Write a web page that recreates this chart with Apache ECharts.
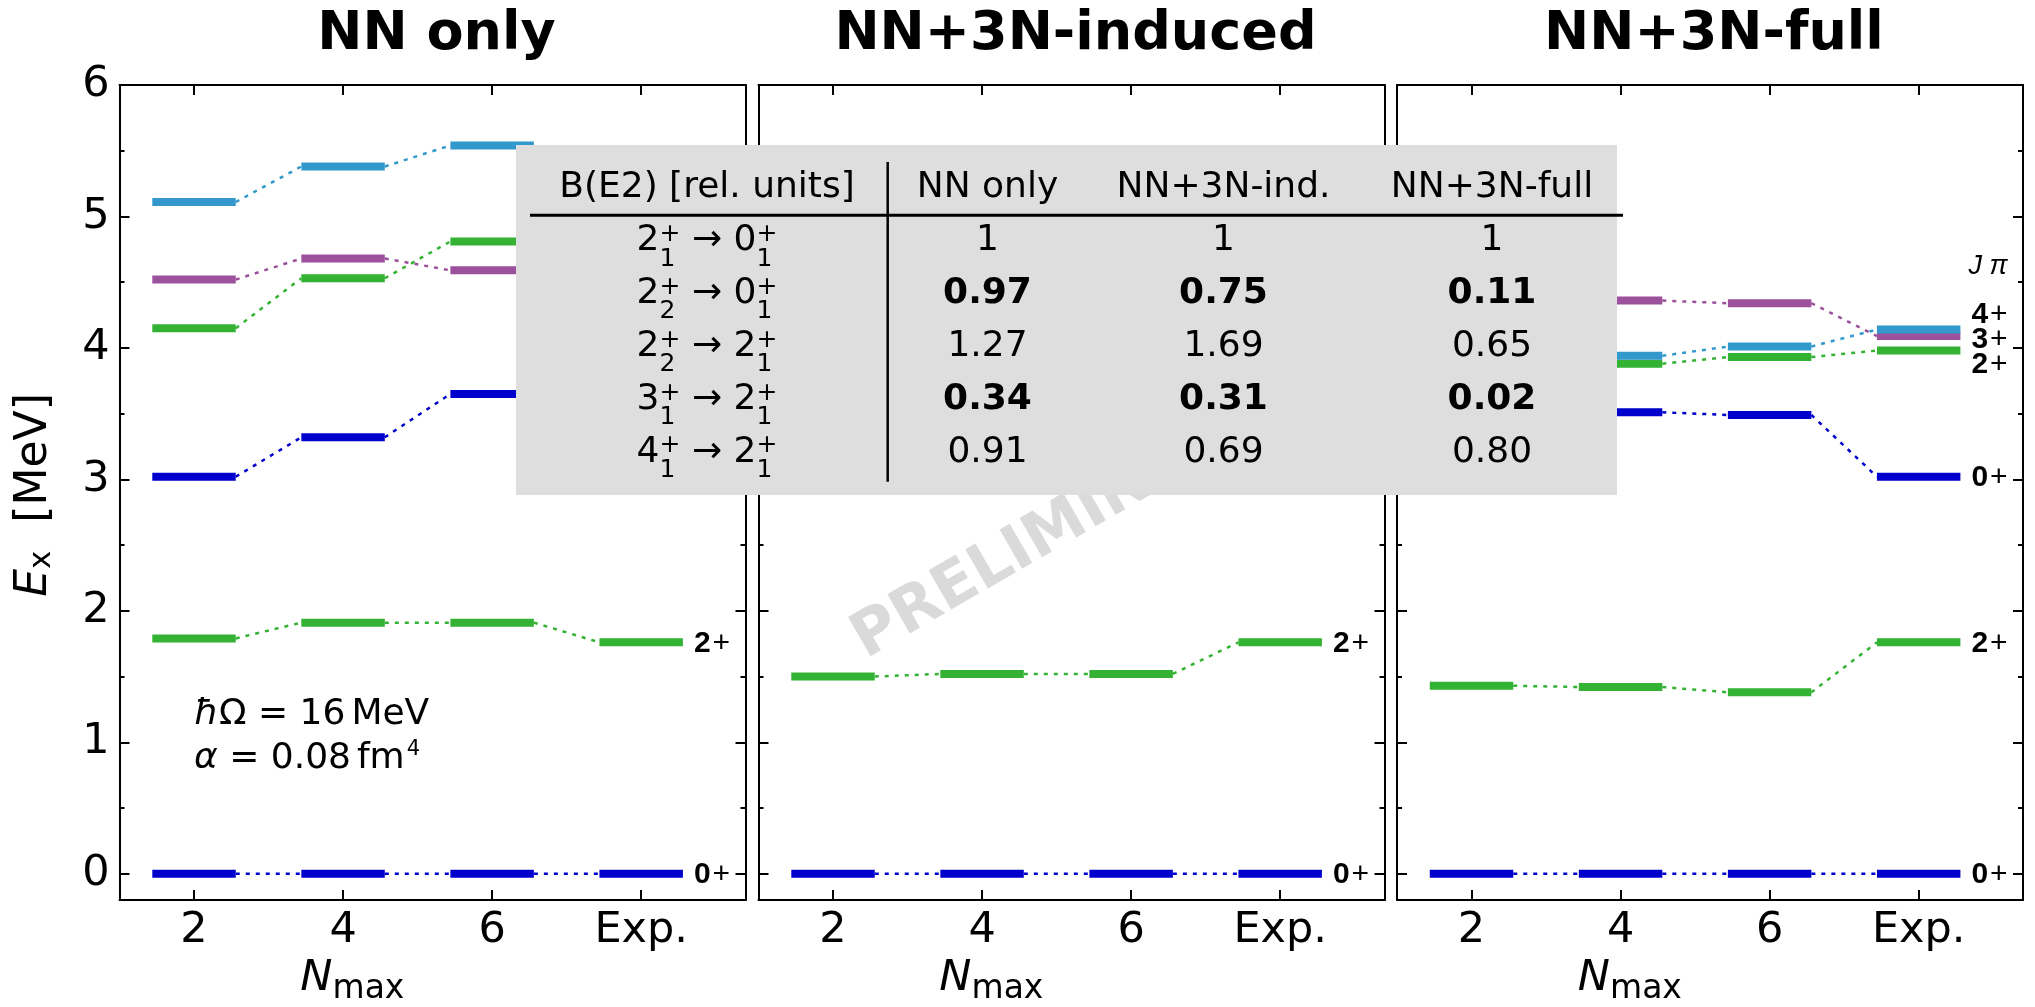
<!DOCTYPE html>
<html>
<head>
<meta charset="utf-8">
<script src="https://cdn.jsdelivr.net/npm/echarts@6/dist/echarts.min.js"></script>
<style>
  html, body { margin: 0; padding: 0; background: #fff; }
  #chart { width: 2035px; height: 1007px; }
</style>
</head>
<body>
<div id="chart"></div>
<script>
// Level schemes E_x versus N_max for three interaction setups, with experiment.
const panelTitles = ['NN only', 'NN+3N-induced', 'NN+3N-full'];
const nmaxPositions = [2, 4, 6, 8];
const nmaxLabels = ['2', '4', '6', 'Exp.'];
const energyTicks = [0, 1, 2, 3, 4, 5, 6];
const energyMinorTicks = [0.5, 1.5, 2.5, 3.5, 4.5, 5.5];

// Levels in drawing order: 0+_1, 2+_1, 0+_2, 2+_2, 3+_1, 4+_1
const levelNames = ['0+', '2+', '0+', '2+', '3+', '4+'];
const levelSpins = ['0', '2', '0', '2', '3', '4'];

// Energies [MeV] at N_max = 2, 4, 6 (null: not available)
const nnOnlyLevels = [
  [0, 0, 0],
  [1.79, 1.91, 1.91],
  [3.02, 3.32, 3.65],
  [4.15, 4.53, 4.81],
  [4.52, 4.68, 4.59],
  [5.11, 5.38, 5.54]
];
const nnInducedLevels = [
  [0, 0, 0],
  [1.50, 1.52, 1.52],
  [null, null, null],
  [null, null, null],
  [null, null, null],
  [null, null, null]
];
const nnFullLevels = [
  [0, 0, 0],
  [1.43, 1.42, 1.38],
  [null, 3.51, 3.49],
  [null, 3.88, 3.93],
  [null, 4.36, 4.34],
  [null, 3.94, 4.01]
];
// Experimental energies [MeV]
const expLevels = [0, 1.76, 3.02, 3.98, 4.09, 4.14];

// B(E2) table
const tableHeader = ['B(E2) [rel. units]', 'NN only', 'NN+3N-ind.', 'NN+3N-full'];
const transInitJ = ['2', '2', '2', '3', '4'];
const transInitN = ['1', '2', '2', '1', '1'];
const transFinalJ = ['0', '0', '2', '2', '2'];
const transFinalN = ['1', '1', '1', '1', '1'];
const be2NNOnly = ['1', '0.97', '1.27', '0.34', '0.91'];
const be2Induced = ['1', '0.75', '1.69', '0.31', '0.69'];
const be2Full = ['1', '0.11', '0.65', '0.02', '0.80'];
const be2BoldRows = [false, true, false, true, false];

const panelLevels = [nnOnlyLevels, nnInducedLevels, nnFullLevels];

// ---- styling / layout ----
const spinColors = { '0': '#0000cc', '2': '#33b233', '3': '#9b519b', '4': '#3399cc' };
const FONT = 'DejaVu Sans';
const LABEL_FONT = 'Liberation Sans';
const gridLefts = [119.5, 758.5, 1397];
const GRID_W = 626, GRID_TOP = 85, GRID_H = 815;
const BAR_HALF = 0.56;     // half width of a level bar in N_max units
const BAR_THICK = 8;
const LABEL_GAP_MEV = 0.19;

const mctx = document.createElement('canvas').getContext('2d');
function fontStr(f) {
  return (f.style || 'normal') + ' ' + (f.weight || 'normal') + ' ' + f.size + 'px "' + f.family + '"';
}
function measure(t, f) { mctx.font = fontStr(f); return mctx.measureText(t).width; }

function textEl(t, f, x, y, z, extra) {
  return Object.assign({
    type: 'text', x: x, y: y, z: z, silent: true,
    style: {
      text: t, fontSize: f.size, fontFamily: f.family, fontWeight: f.weight || 'normal',
      fontStyle: f.style || 'normal', fill: f.color || '#000',
      align: f.align || 'left', verticalAlign: 'middle'
    }
  }, extra || {});
}

// Lay out text fragments along one line; {stack:[a,b]} shares one slot (sup/sub).
function layoutRow(frags, x0, yMid, z) {
  const els = [];
  let x = x0;
  frags.forEach(fr => {
    const parts = fr.stack ? fr.stack : [fr];
    let adv = 0;
    parts.forEach(p => {
      adv = Math.max(adv, measure(p.t, p));
      els.push(textEl(p.t, p, x + (p.dx || 0), yMid + (p.dy || 0), z));
    });
    x += adv + (fr.after || 0);
  });
  return { els: els, width: x - x0 };
}
function layoutCentered(frags, cx, yMid, z) {
  const probe = layoutRow(frags, 0, yMid, z);
  probe.els.forEach(e => { e.x += cx - probe.width / 2; });
  return probe.els;
}

// Push label positions apart so neighbours keep a minimum spacing
function spreadLabels(vals, gap) {
  const items = vals.map((v, i) => ({ i: i, p: v })).sort((a, b) => b.p - a.p);
  for (let it = 0; it < 500; it++) {
    let moved = false;
    for (let k = 0; k < items.length - 1; k++) {
      const d = items[k].p - items[k + 1].p;
      if (d < gap - 1e-9) {
        const s = (gap - d) / 2;
        items[k].p += s; items[k + 1].p -= s; moved = true;
      }
    }
    if (!moved) break;
  }
  const out = [];
  items.forEach(o => { out[o.i] = o.p; });
  return out;
}

// ---- axes ----
const axisLineStyle = { color: '#000', width: 2 };
const xAxes = [], yAxes = [], grids = [];
gridLefts.forEach((left, i) => {
  grids.push({ left: left, top: GRID_TOP, width: GRID_W, height: GRID_H,
    containLabel: false, outerBoundsMode: 'none', show: false });
  ['bottom', 'top'].forEach(pos => {
    xAxes.push({
      type: 'value', gridIndex: i, position: pos, min: 1, max: 9.4,
      axisLine: { show: true, onZero: false, lineStyle: axisLineStyle },
      axisTick: { show: true, inside: true, length: 10, customValues: nmaxPositions,
        lineStyle: { color: '#000', width: 2 } },
      axisLabel: { show: pos === 'bottom', customValues: nmaxPositions,
        formatter: v => nmaxLabels[nmaxPositions.indexOf(v)],
        fontSize: 43, fontFamily: FONT, color: '#000', margin: 9 },
      splitLine: { show: false }
    });
  });
  ['left', 'right'].forEach(pos => {
    [false, true].forEach(minor => {
      yAxes.push({
        type: 'value', gridIndex: i, position: pos, min: -0.2, max: 6,
        axisLine: { show: !minor, onZero: false, lineStyle: axisLineStyle },
        axisTick: { show: true, inside: true, length: minor ? 5 : 10,
          customValues: minor ? energyMinorTicks : energyTicks,
          lineStyle: { color: '#000', width: 2 } },
        axisLabel: { show: !minor && pos === 'left' && i === 0, customValues: energyTicks,
          fontSize: 43, fontFamily: FONT, color: '#000', margin: 10 },
        splitLine: { show: false }
      });
    });
  });
});

// ---- series: level bars with dotted connectors ----
const series = [];
panelLevels.forEach((levels, pi) => {
  levels.forEach((theory, li) => {
    const vals = theory.concat([expLevels[li]]);
    const pts = [];
    vals.forEach((v, k) => { if (v !== null) pts.push([nmaxPositions[k], v]); });
    const color = spinColors[levelSpins[li]];
    series.push({
      type: 'custom', name: panelTitles[pi] + ' ' + levelNames[li],
      xAxisIndex: 2 * pi, yAxisIndex: 4 * pi, coordinateSystem: 'cartesian2d',
      data: pts, silent: true, clip: false,
      renderItem: (params, api) => {
        const idx = params.dataIndex;
        const x = api.value(0), y = api.value(1);
        const a = api.coord([x - BAR_HALF, y]);
        const b = api.coord([x + BAR_HALF, y]);
        const children = [{
          type: 'rect',
          shape: { x: a[0], y: a[1] - BAR_THICK / 2, width: b[0] - a[0], height: BAR_THICK },
          style: { fill: color }
        }];
        if (idx < pts.length - 1) {
          const n = pts[idx + 1];
          const c = api.coord([n[0] - BAR_HALF, n[1]]);
          children.push({
            type: 'line',
            shape: { x1: b[0], y1: b[1], x2: c[0], y2: c[1] },
            style: { stroke: color, lineWidth: 2.5, lineDash: [4, 6] }
          });
        }
        return { type: 'group', children: children };
      }
    });
  });

  // J^pi labels next to the experimental levels
  const labelY = spreadLabels(expLevels, LABEL_GAP_MEV);
  const topLabel = Math.max.apply(null, labelY);
  const labelData = labelY.map(v => [nmaxPositions[3], v]);
  series.push({
    type: 'custom', name: panelTitles[pi] + ' labels',
    xAxisIndex: 2 * pi, yAxisIndex: 4 * pi, coordinateSystem: 'cartesian2d',
    data: labelData, silent: true, clip: false, z: 5,
    renderItem: (params, api) => {
      const idx = params.dataIndex;
      const p = api.coord([api.value(0) + BAR_HALF, api.value(1)]);
      const name = levelNames[idx];
      const fd = { size: 30, family: LABEL_FONT, weight: 'bold' };
      const fp = { size: 30, family: LABEL_FONT };
      const x0 = p[0] + 11;
      const wd = measure(name[0], fd);
      const kids = [
        textEl(name[0], fd, x0, p[1] + 1, 0),
        textEl(name.slice(1), fp, x0 + wd + 2, p[1] + 1, 0)
      ];
      if (idx === 0) {
        const q = api.coord([api.value(0) + BAR_HALF, topLabel + 0.36]);
        kids.push(textEl('J π', { size: 27, family: LABEL_FONT, style: 'italic' }, x0 - 3, q[1], 0));
      }
      kids.forEach(k => { delete k.z; delete k.silent; });
      return { type: 'group', children: kids };
    }
  });
});

// ---- graphic: titles, axis names, note, watermark, B(E2) table ----
const graphics = [];
gridLefts.forEach((left, i) => {
  graphics.push(textEl(panelTitles[i], { size: 54, family: FONT, weight: 'bold', align: 'center' },
    left + GRID_W / 2 + 4, 35, 100));
  // N_max axis name
  const nFrags = [
    { t: 'N', size: 43, family: FONT, style: 'italic' },
    { t: 'max', size: 33, family: FONT, dy: 11 }
  ];
  layoutCentered(nFrags, left + 0.372 * GRID_W, 978.6, 100).forEach(e => graphics.push(e));
});

// E_x [MeV], rotated
const exFrags = [
  { t: 'E', size: 44, family: FONT, style: 'italic' },
  { t: 'x', size: 31, family: FONT, dy: 7 },
  { t: '  [MeV]', size: 44, family: FONT }
];
graphics.push({ type: 'group', x: 50, y: 495, rotation: Math.PI / 2, z: 100,
  children: layoutCentered(exFrags, 0, -15.2, 100) });

// oscillator frequency and SRG parameter
layoutRow([
  { t: 'ħ', size: 36, family: FONT, style: 'italic' },
  { t: 'Ω = 16', size: 36, family: FONT, after: 6 },
  { t: 'MeV', size: 36, family: FONT }
], 194, 714.3, 100).els.forEach(e => graphics.push(e));
layoutRow([
  { t: 'α', size: 36, family: FONT, style: 'italic' },
  { t: ' = 0.08', size: 36, family: FONT, after: 6 },
  { t: 'fm', size: 36, family: FONT, after: 2 },
  { t: '4', size: 21, family: FONT, dy: -9 }
], 194, 758.5, 100).els.forEach(e => graphics.push(e));

// watermark
graphics.push({ type: 'text', x: 1062, y: 527, rotation: Math.PI / 6, z: 50, silent: true,
  style: { text: 'PRELIMINARY', fontSize: 62, fontFamily: FONT, fontWeight: 'bold',
    fill: '#dadada', align: 'center', verticalAlign: 'middle' } });

// table
const TBL = { x: 516, y: 145, w: 1101, h: 350 };
const colCenters = [707, 987.5, 1223.5, 1492];
const headerMid = 187.5, rowMid0 = 240.7, rowStep = 52.9;
graphics.push({ type: 'rect', z: 100, silent: true,
  shape: { x: TBL.x, y: TBL.y, width: TBL.w, height: TBL.h }, style: { fill: '#dedede' } });
graphics.push({ type: 'line', z: 101, silent: true,
  shape: { x1: 530, y1: 215.3, x2: 1623, y2: 215.3 }, style: { stroke: '#000', lineWidth: 3 } });
graphics.push({ type: 'line', z: 101, silent: true,
  shape: { x1: 887.7, y1: 162, x2: 887.7, y2: 481.7 }, style: { stroke: '#000', lineWidth: 2.5 } });
tableHeader.forEach((h, c) => {
  graphics.push(textEl(h, { size: 36, family: FONT, align: 'center' }, colCenters[c], headerMid, 101));
});
const M = { size: 36, family: FONT };
const S = { size: 25, family: FONT };
const be2Cols = [be2NNOnly, be2Induced, be2Full];
transInitJ.forEach((ji, r) => {
  const yMid = rowMid0 + r * rowStep;
  const frags = [
    Object.assign({ t: ji }, M),
    { stack: [Object.assign({ t: '+', dy: -6.4 }, S), Object.assign({ t: transInitN[r], dy: 18.3 }, S)] },
    Object.assign({ t: ' → ' }, M),
    Object.assign({ t: transFinalJ[r] }, M),
    { stack: [Object.assign({ t: '+', dy: -6.4 }, S), Object.assign({ t: transFinalN[r], dy: 18.3 }, S)] }
  ];
  layoutCentered(frags, colCenters[0], yMid, 101).forEach(e => graphics.push(e));
  be2Cols.forEach((col, c) => {
    graphics.push(textEl(col[r], { size: 36, family: FONT, align: 'center',
      weight: be2BoldRows[r] ? 'bold' : 'normal' }, colCenters[c + 1], yMid, 101));
  });
});

const chart = echarts.init(document.getElementById('chart'), null, { renderer: 'canvas' });
chart.setOption({
  animation: false,
  backgroundColor: '#fff',
  grid: grids,
  xAxis: xAxes,
  yAxis: yAxes,
  series: series,
  graphic: { elements: graphics }
});
</script>
</body>
</html>
